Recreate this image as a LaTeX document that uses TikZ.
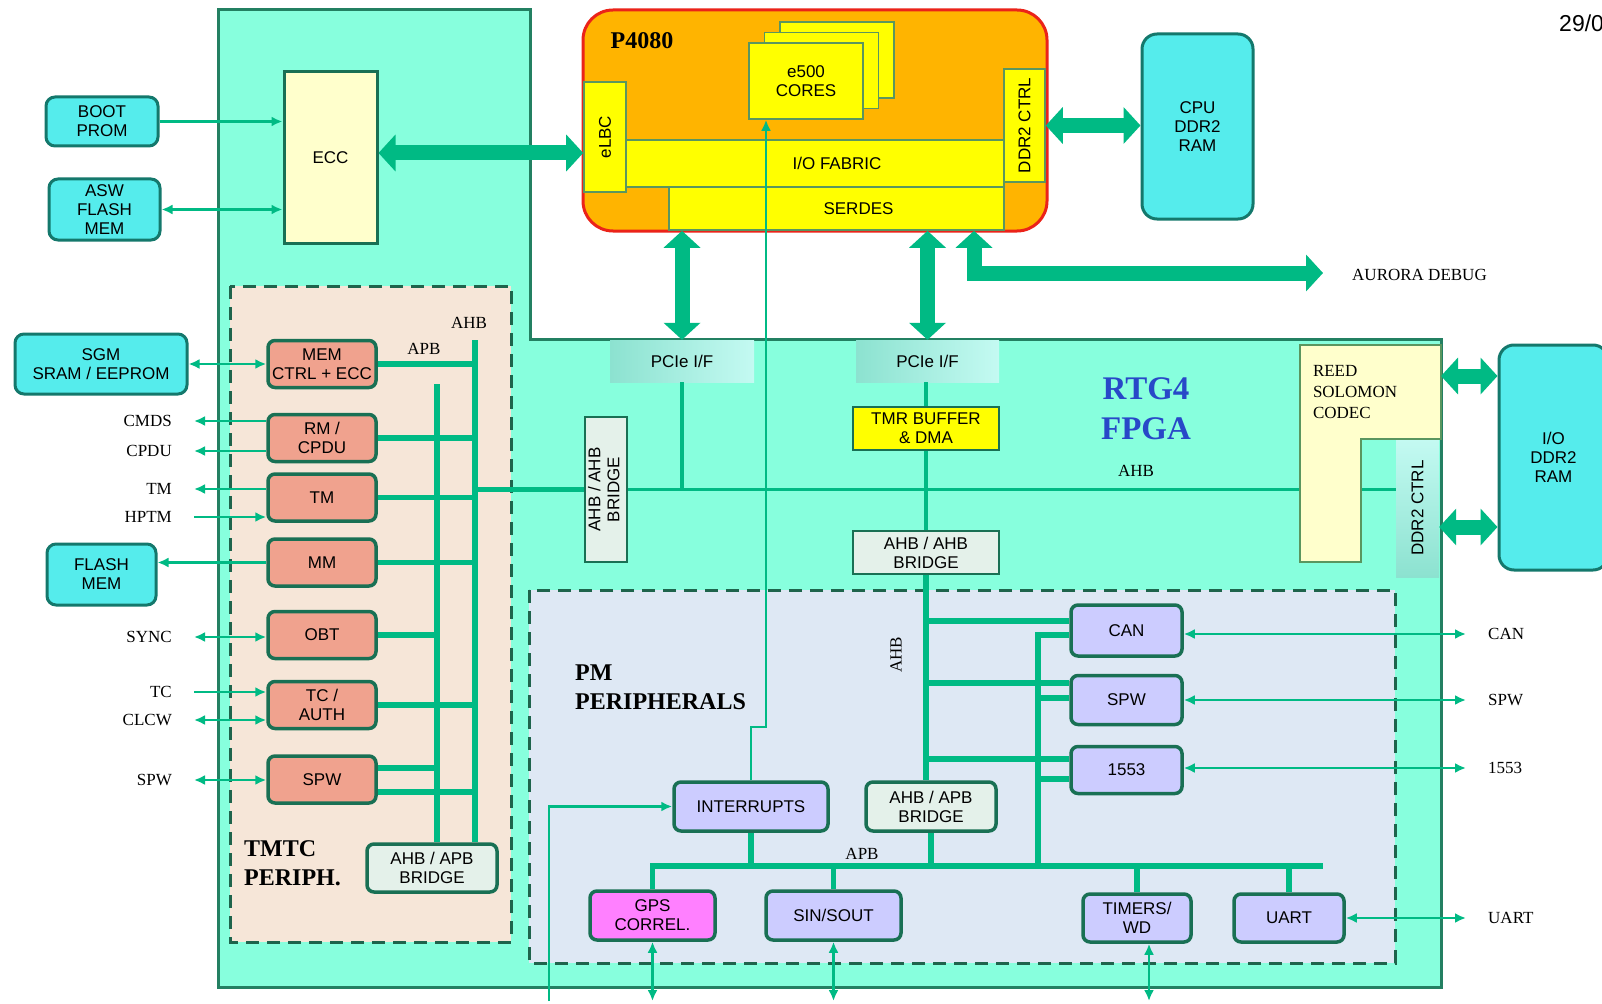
\documentclass[tikz,border=0pt]{standalone}
\usepackage{fontspec}
\setmainfont{Liberation Serif}
\setsansfont{Liberation Sans}
\usepackage{tikz}
\usetikzlibrary{arrows.meta}
\definecolor{fpgafill}{RGB}{135,255,221}
\definecolor{fpgaline}{RGB}{35,128,98}
\definecolor{busgreen}{RGB}{0,186,132}
\definecolor{boxline}{RGB}{25,112,84}
\definecolor{regionline}{RGB}{30,100,76}
\definecolor{memcyan}{RGB}{85,236,236}
\definecolor{memline}{RGB}{20,120,108}
\definecolor{salmon}{RGB}{240,162,142}
\definecolor{lavender}{RGB}{204,204,255}
\definecolor{gpspink}{RGB}{255,128,255}
\definecolor{cpuorange}{RGB}{255,180,0}
\definecolor{cpured}{RGB}{235,35,25}
\definecolor{cpuyellow}{RGB}{255,255,0}
\definecolor{cpuline}{RGB}{90,150,95}
\definecolor{eccyellow}{RGB}{255,255,204}
\definecolor{tmtcfill}{RGB}{246,230,216}
\definecolor{pmfill}{RGB}{222,232,244}
\definecolor{bridgefill}{RGB}{228,241,234}
\definecolor{pcielight}{RGB}{196,250,242}
\definecolor{pcieshade}{RGB}{140,226,208}
\definecolor{fpgablue}{RGB}{40,72,200}
\newcommand{\blockfont}{\sffamily\fontsize{17}{19}\selectfont}
\newcommand{\sigfont}{\rmfamily\fontsize{17}{21}\selectfont}
\newcommand{\groupfont}{\rmfamily\bfseries\fontsize{24}{29}\selectfont}
\newcommand{\chipfont}{\rmfamily\bfseries\fontsize{24}{28}\selectfont}
\newcommand{\fpgafont}{\rmfamily\bfseries\fontsize{33}{40}\selectfont}

\begin{document}
\begin{tikzpicture}[x=1pt, y=-1pt,
  blk/.style={draw=boxline, line width=3.5pt, rounded corners=7pt, font=\blockfont,
              align=center, inner sep=0pt},
  tmblk/.style={blk, fill=salmon, minimum width=108pt, minimum height=47pt},
  pmblk/.style={blk, fill=lavender},
  extmem/.style={draw=memline, fill=memcyan, line width=3pt, rounded corners=9pt,
                 font=\blockfont, align=center, inner sep=0pt},
  cpublk/.style={draw=cpuline, fill=cpuyellow, line width=1.6pt, font=\blockfont,
                 align=center, inner sep=0pt},
  plainblk/.style={draw=boxline, fill=bridgefill, line width=1.6pt, font=\blockfont,
                   align=center, inner sep=0pt},
  pcieblk/.style={left color=pcieshade, right color=pcielight, font=\blockfont,
                  inner sep=0pt, minimum height=42pt},
  siglbl/.style={font=\sigfont, inner xsep=22pt, inner ysep=1pt},
  txt/.style={font=\sigfont, inner sep=0pt},
  sig/.style={draw=busgreen, line width=2.5pt, -{Latex[length=11pt,width=10pt]}},
  sigboth/.style={sig, {Latex[length=11pt,width=10pt]}-{Latex[length=11pt,width=10pt]}},
  bus/.style={draw=busgreen, line width=5.5pt},
  ahbline/.style={draw=busgreen, line width=3.5pt},
  fat/.style={draw=busgreen, line width=15pt,
              {Triangle[length=17pt,width=36pt]}-{Triangle[length=17pt,width=36pt]}},
  region/.style={draw=regionline, line width=3pt, dash pattern=on 13pt off 8pt}
]
  \useasboundingbox (0,0) rectangle (1602,1003);
  \fill[white] (0,0) rectangle (1602,1003);

  \draw[draw=fpgaline, line width=3pt, fill=fpgafill]
    (218,10) -- (530,10) -- (530,339) -- (1441,339) -- (1441,987) -- (218,987) -- cycle;
  \draw[region, fill=tmtcfill] (230,286) rectangle (511,942);
  \draw[region, fill=pmfill] (529,590) rectangle (1395,963);

  \node[extmem, minimum width=112pt, minimum height=49pt] (bootprom) at (102,121.5) {BOOT\\PROM};
  \node[extmem, minimum width=111pt, minimum height=61pt] (aswflash) at (104.5,209.5) {ASW\\FLASH\\MEM};
  \node[extmem, minimum width=172pt, minimum height=60pt] (sgm) at (101,364) {SGM\\SRAM / EEPROM};
  \node[extmem, minimum width=109pt, minimum height=61pt] (flashmem) at (101.5,574.5) {FLASH\\MEM};
  \node[extmem, rounded corners=15pt, minimum width=111pt, minimum height=185pt] (cpuram) at (1197.5,126.5) {CPU\\DDR2\\RAM};
  \node[extmem, rounded corners=15pt, minimum width=109pt, minimum height=225pt] (ioram) at (1553.5,457.5) {I/O\\DDR2\\RAM};
  \node[draw=boxline, line width=3pt, fill=eccyellow, font=\blockfont, minimum width=93pt,
        minimum height=171pt] (ecc) at (330.5,157.5) {ECC};

  \node[draw=cpured, line width=3pt, fill=cpuorange, rounded corners=30pt, minimum width=464pt,
        minimum height=221pt] (p4080) at (815,120.5) {};
  \node[font=\chipfont, inner sep=0pt] (p4080lbl) at (642,41) {P4080};
  \node[cpublk, minimum width=114pt, minimum height=76pt] (core3) at (837,60) {};
  \node[cpublk, minimum width=114pt, minimum height=76pt] (core2) at (821.5,70.5) {};
  \node[cpublk, minimum width=114pt, minimum height=76pt] (cores) at (806,81) {e500\\CORES};
  \node[cpublk, minimum width=42pt, minimum height=110pt] (elbc) at (605,137) {\rotatebox{90}{eLBC}};
  \node[cpublk, minimum width=378pt, minimum height=47pt] (iofabric) at (815,163.5) {\hspace*{44pt}I/O FABRIC};
  \node[cpublk, minimum width=335pt, minimum height=43pt] (serdes) at (836.5,208.5) {\hspace*{44pt}SERDES};
  \node[cpublk, minimum width=41pt, minimum height=113pt] (cpuddr) at (1024.5,125.5) {\rotatebox{90}{DDR2 CTRL}};

  \node[pcieblk, minimum width=144pt] (pcie1) at (682,361) {PCIe I/F};
  \node[pcieblk, minimum width=143pt] (pcie2) at (927.5,361) {PCIe I/F};
  \node[plainblk, minimum width=42pt, minimum height=145pt] (ahbbr1) at (606,489.5)
       {\rotatebox{90}{\begin{tabular}{@{}c@{}}AHB / AHB\\BRIDGE\end{tabular}}};
  \node[cpublk, draw=boxline, minimum width=146pt, minimum height=43pt] (tmr) at (926,428.5) {TMR BUFFER\\\& DMA};
  \node[plainblk, minimum width=146pt, minimum height=43pt] (ahbbr2) at (926,552.5) {AHB / AHB\\BRIDGE};
  \node[top color=pcielight, bottom color=pcieshade, font=\blockfont, inner sep=0pt, minimum width=43pt,
        minimum height=138pt] (ddrfpga) at (1417.5,508) {\rotatebox{90}{DDR2 CTRL}};
  \node[font=\fpgafont, text=fpgablue, align=center, inner sep=0pt] (rtg4) at (1146,409) {RTG4\\FPGA};
  \node[txt] (fpgaahb) at (1136,471) {AHB};

  \node[tmblk] (memctrl) at (322,364) {MEM\\CTRL + ECC};
  \node[tmblk] (rmcpdu) at (322,438) {RM /\\CPDU};
  \node[tmblk] (tm) at (322,497.5) {TM};
  \node[tmblk] (mm) at (322,562.5) {MM};
  \node[tmblk] (obt) at (322,635) {OBT};
  \node[tmblk] (tcauth) at (322,705) {TC /\\AUTH};
  \node[tmblk] (tmspw) at (322,779.5) {SPW};
  \node[blk, fill=bridgefill, minimum width=130pt, minimum height=48pt] (tmbridge) at (432,868) {AHB / APB\\BRIDGE};
  \node[txt] (tmahb) at (469,323) {AHB};
  \node[txt] (tmapb) at (424,349) {APB};
  \node[font=\groupfont, align=left, anchor=north west, inner sep=0pt] (tmtclbl) at (244,840) {TMTC\\PERIPH.};

  \node[pmblk, minimum width=154pt, minimum height=49pt] (irq) at (751,806.5) {INTERRUPTS};
  \node[blk, fill=bridgefill, minimum width=130pt, minimum height=49pt] (pmbridge) at (931,806.5) {AHB / APB\\BRIDGE};
  \node[pmblk, minimum width=111pt, minimum height=51pt] (pmcan) at (1126.5,630.5) {CAN};
  \node[pmblk, minimum width=111pt, minimum height=49pt] (pmspw) at (1126.5,700) {SPW};
  \node[pmblk, minimum width=111pt, minimum height=47pt] (pmmil) at (1126.5,770) {1553};
  \node[blk, fill=gpspink, minimum width=125pt, minimum height=49pt] (gps) at (652.5,915.5) {GPS\\CORREL.};
  \node[pmblk, minimum width=135pt, minimum height=49pt] (sinsout) at (833.5,915.5) {SIN/SOUT};
  \node[pmblk, minimum width=108pt, minimum height=48pt] (timers) at (1137,918) {TIMERS/\\WD};
  \node[pmblk, minimum width=110pt, minimum height=48pt] (uart) at (1289,918) {UART};
  \node[txt, rotate=90] (pmahb) at (896,655) {AHB};
  \node[txt] (pmapb) at (862,854) {APB};
  \node[font=\groupfont, align=left, anchor=north west, inner sep=0pt] (pmlbl) at (575,665) {PM\\PERIPHERALS};

  \node[siglbl, anchor=east] (cmds) at (194,421) {CMDS};
  \node[siglbl, anchor=east] (cpdu) at (194,451) {CPDU};
  \node[siglbl, anchor=east] (tmout) at (194,489) {TM};
  \node[siglbl, anchor=east] (hptm) at (194,517) {HPTM};
  \node[siglbl, anchor=east] (sync) at (194,637) {SYNC};
  \node[siglbl, anchor=east] (tcin) at (194,692) {TC};
  \node[siglbl, anchor=east] (clcw) at (194,720) {CLCW};
  \node[siglbl, anchor=east] (tmtcspw) at (194,780) {SPW};
  \node[siglbl, anchor=west] (canlbl) at (1466,634) {CAN};
  \node[siglbl, anchor=west] (spwlbl) at (1466,700) {SPW};
  \node[siglbl, anchor=west] (millbl) at (1466,768) {1553};
  \node[siglbl, anchor=west] (uartlbl) at (1466,918) {UART};
  \node[txt, anchor=west] (aurora) at (1352,275) {AURORA DEBUG};
  \node[font=\sffamily\fontsize{23}{25}\selectfont, anchor=west, inner sep=0pt] (datestamp) at (1559,23) {29/0};

  \coordinate (aurbend) at (974,273);
  \coordinate (aurend) at (1323,273);
  \coordinate (tmahbx) at (475,340);
  \coordinate (tmapbx) at (437,384);
  \coordinate (apbend) at (1323,866);
  \coordinate (pmapbx) at (1038,635);
  \coordinate (irqjog) at (766,727);
  \coordinate (irqin) at (549,1001);
  \coordinate (gpsout) at (652.5,1001);
  \coordinate (sinout) at (833.5,1001);
  \coordinate (timout) at (1149,1001);
  \coordinate (rsport) at (1441,376);

  \draw[fat] (ecc.east |- 0,153) -- (elbc.west |- 0,153);
  \draw[fat] (cpuddr.east) -- (cpuddr.east -| cpuram.west);
  \draw[fat] (serdes.south -| pcie1) -- (pcie1.north);
  \draw[fat] (serdes.south -| pcie2) -- (pcie2.north);
  \draw[fat] (serdes.south -| aurbend) -- (aurbend) -- (aurend);
  \draw[fat] (ddrfpga.east |- 0,527) -- (ioram.west |- 0,527);

  \draw[sig] (bootprom.east) -- (bootprom.east -| ecc.west);
  \draw[sigboth] (aswflash.east) -- (aswflash.east -| ecc.west);
  \draw[sigboth] (sgm.east) -- (memctrl.west);
  \draw[sig] (cmds.east -| rmcpdu.west) -- (cmds.east);
  \draw[sig] (cpdu.east -| rmcpdu.west) -- (cpdu.east);
  \draw[sig] (tmout.east -| tm.west) -- (tmout.east);
  \draw[sig] (hptm.east) -- (hptm.east -| tm.west);
  \draw[sig] (mm.west) -- (mm.west -| flashmem.east);
  \draw[sigboth] (sync.east) -- (sync.east -| obt.west);
  \draw[sig] (tcin.east) -- (tcin.east -| tcauth.west);
  \draw[sigboth] (clcw.east) -- (clcw.east -| tcauth.west);
  \draw[sigboth] (tmtcspw.east) -- (tmtcspw.east -| tmspw.west);

  \draw[bus] (tmahbx) -- (tmahbx |- tmbridge.north);
  \draw[bus] (tmapbx) -- (tmapbx |- tmbridge.north);
  \draw[bus] (memctrl.east) -- (memctrl.east -| tmahbx);
  \draw[bus] (rmcpdu.east) -- (rmcpdu.east -| tmahbx);
  \draw[bus] (tm.east) -- (tm.east -| tmahbx);
  \draw[bus] (mm.east) -- (mm.east -| tmahbx);
  \draw[bus] (obt.east) -- (obt.east -| tmapbx);
  \draw[bus] (tcauth.east) -- (tcauth.east -| tmahbx);
  \draw[bus] (tmspw.east |- 0,768) -- (tmapbx |- 0,768);
  \draw[bus] (tmspw.east |- 0,792) -- (tmahbx |- 0,792);
  \draw[bus] (tmahbx |- ahbbr1.west) -- (ahbbr1.west);

  \draw[ahbline] (ahbbr1.east) -- (ahbbr1.east -| ddrfpga.west);
  \draw[ahbline] (pcie1.south) -- (pcie1.south |- ahbbr1.east);
  \draw[ahbline] (pcie2.south -| tmr) -- (tmr.north);
  \draw[ahbline] (tmr.south) -- (ahbbr2.north);
  \draw[bus] (ahbbr2.south) -- (ahbbr2.south |- pmbridge.north);
  \draw[bus] (ahbbr2.south |- 0,621) -- (pmcan.west |- 0,621);
  \draw[bus] (ahbbr2.south |- 0,683) -- (pmspw.west |- 0,683);
  \draw[bus] (ahbbr2.south |- 0,759) -- (pmmil.west |- 0,759);
  \draw[bus] (pmcan.west |- pmapbx) -- (pmapbx) -- (pmapbx |- apbend);
  \draw[bus] (pmapbx |- 0,698) -- (pmspw.west |- 0,698);
  \draw[bus] (pmapbx |- 0,779) -- (pmmil.west |- 0,779);
  \draw[bus] (gps.north) |- (apbend);
  \draw[bus] (irq.south) -- (irq.south |- apbend);
  \draw[bus] (sinsout.north) -- (sinsout.north |- apbend);
  \draw[bus] (pmbridge.south) -- (pmbridge.south |- apbend);
  \draw[bus] (timers.north) -- (timers.north |- apbend);
  \draw[bus] (uart.north) -- (uart.north |- apbend);

  \draw[sig] (irq.north) |- (irqjog) -- (irqjog |- cores.south);
  \draw[sig] (irqin) |- (irq.west);
  \draw[sigboth] (gps.south) -- (gpsout);
  \draw[sigboth] (sinsout.south) -- (sinout);
  \draw[sigboth] (timout |- timers.south) -- (timout);
  \draw[sigboth] (canlbl.west -| pmcan.east) -- (canlbl.west);
  \draw[sigboth] (spwlbl.west -| pmspw.east) -- (spwlbl.west);
  \draw[sigboth] (millbl.west -| pmmil.east) -- (millbl.west);
  \draw[sigboth] (uartlbl.west -| uart.east) -- (uartlbl.west);

  \draw[draw=cpuline, line width=1.4pt, fill=eccyellow]
    (1300,345) -- (1441,345) -- (1441,439) -- (1361,439) -- (1361,562) -- (1300,562) -- cycle;
  \node[font=\sigfont, align=left, text width=120pt, inner sep=0pt] (rs) at (1373,392) {REED\\SOLOMON\\CODEC};
  \draw[fat] (rsport) -- (rsport -| ioram.west);
\end{tikzpicture}
\end{document}
